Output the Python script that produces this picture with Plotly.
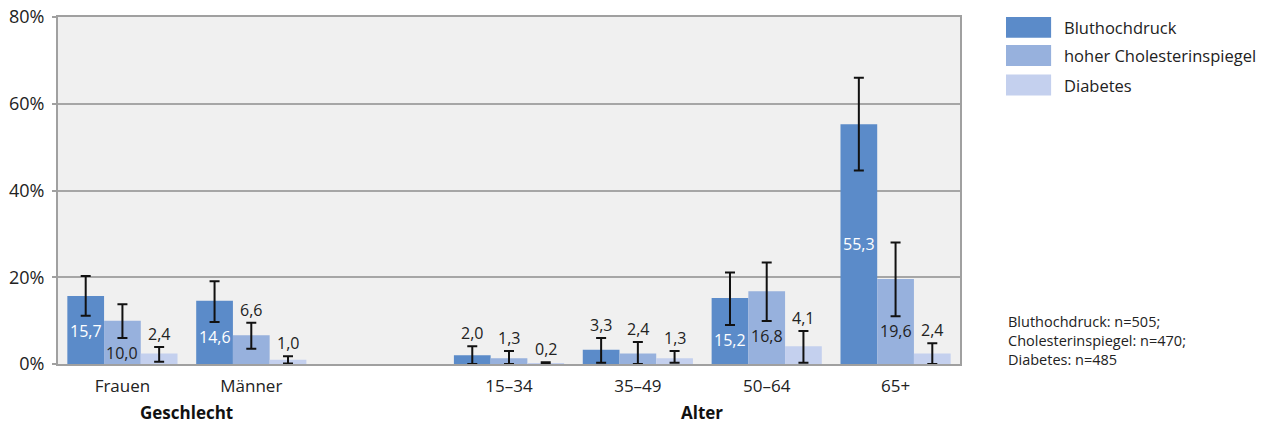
import plotly.graph_objects as go

# ---- data ----
categories = ["Frauen", "Männer", "15–34", "35–49", "50–64", "65+"]
cat_pos = [0, 1, 3, 4, 5, 6]
groups = ["Geschlecht", "Alter"]
group_pos = [0.5, 4.5]

series = ["Bluthochdruck", "hoher Cholesterinspiegel", "Diabetes"]
values = {
    "Bluthochdruck":            [15.7, 14.6, 2.0, 3.3, 15.2, 55.3],
    "hoher Cholesterinspiegel": [10.0, 6.6, 1.3, 2.4, 16.8, 19.6],
    "Diabetes":                 [2.4, 1.0, 0.2, 1.3, 4.1, 2.4],
}
ci_upper = {
    "Bluthochdruck":            [20.3, 19.1, 4.1, 6.0, 21.1, 66.0],
    "hoher Cholesterinspiegel": [13.8, 9.5, 3.0, 5.1, 23.4, 28.0],
    "Diabetes":                 [3.9, 1.8, 0.4, 3.0, 7.6, 4.8],
}
ci_lower = {
    "Bluthochdruck":            [11.1, 9.7, 0.0, 0.3, 9.0, 44.6],
    "hoher Cholesterinspiegel": [6.0, 3.5, 0.0, 0.0, 9.9, 11.0],
    "Diabetes":                 [0.5, 0.1, 0.0, 0.3, 0.3, 0.0],
}
y_ticks = [0, 20, 40, 60, 80]
note_lines = ["Bluthochdruck: n=505;", "Cholesterinspiegel: n=470;", "Diabetes: n=485"]

# ---- style ----
colors = ["#5B8BC9", "#97B1DD", "#C4D0EE"]
inside_text_colors = ["white", "#222222", "#222222"]
FONT = "Open Sans"
bargap = 0.145
bar_w = (1 - bargap) / 3

fig = go.Figure()
for i, s in enumerate(series):
    v = values[s]
    fig.add_trace(go.Bar(
        x=cat_pos, y=v, name=s, marker_color=colors[i], marker_line_width=0,
        error_y=dict(type="data", symmetric=False,
                     array=[h - a for h, a in zip(ci_upper[s], v)],
                     arrayminus=[a - l for a, l in zip(v, ci_lower[s])],
                     color="#111111", thickness=2, width=5),
        showlegend=False,
    ))

annotations = []
for i, s in enumerate(series):
    off = (i - 1) * bar_w
    for p, v, hi, lo in zip(cat_pos, values[s], ci_upper[s], ci_lower[s]):
        txt = f"{v:.1f}".replace(".", ",")
        if v >= 10:
            y = min(v / 2, lo - 3.5)
            annotations.append(dict(x=p + off, y=y, xref="x", yref="y", text=txt,
                                    showarrow=False, yanchor="middle",
                                    font=dict(family=FONT, size=16, color=inside_text_colors[i])))
        else:
            annotations.append(dict(x=p + off, y=hi, xref="x", yref="y", text=txt,
                                    showarrow=False, yanchor="middle", yshift=13,
                                    font=dict(family=FONT, size=16, color="#222222")))

for g, gp in zip(groups, group_pos):
    annotations.append(dict(x=gp, y=-0.141, xref="x", yref="paper", text=f"<b>{g}</b>",
                            showarrow=False, yanchor="middle",
                            font=dict(family=FONT, size=17, color="#111111")))

# legend (drawn manually to match large swatches)
shapes = []
leg_y = [0.970, 0.889, 0.804]
for i, s in enumerate(series):
    shapes.append(dict(type="rect", xref="paper", yref="paper",
                       x0=1.051, x1=1.101, y0=leg_y[i] - 0.030, y1=leg_y[i] + 0.030,
                       fillcolor=colors[i], line_width=0))
    annotations.append(dict(x=1.113, y=leg_y[i], xref="paper", yref="paper", text=s,
                            showarrow=False, xanchor="left", yanchor="middle",
                            font=dict(family=FONT, size=16.5, color="#222222")))

annotations.append(dict(x=1.051, y=0.069, xref="paper", yref="paper",
                        text="<br>".join(note_lines), showarrow=False,
                        xanchor="left", yanchor="middle", align="left",
                        font=dict(family=FONT, size=14.5, color="#222222")))

fig.update_layout(
    width=1264, height=425,
    margin=dict(l=58, r=304, t=17, b=61, autoexpand=False),
    paper_bgcolor="white", plot_bgcolor="#F0F0F0",
    barmode="group", bargap=bargap, bargroupgap=0,
    font=dict(family=FONT, size=16, color="#222222"),
    annotations=annotations, shapes=shapes,
    xaxis=dict(range=[-0.5, 6.5], tickvals=cat_pos, ticktext=categories,
               showgrid=False, zeroline=False, showline=True, linecolor="#A0A0A0",
               linewidth=2, mirror=True, ticks="", ticklabelstandoff=6,
               tickfont=dict(size=17, family=FONT, color="#222222"),
               automargin=False, fixedrange=True),
    yaxis=dict(range=[0, 80], tickvals=y_ticks, ticktext=[f"{t}%" for t in y_ticks],
               showgrid=True, gridcolor="#A6A6A6", gridwidth=2, zeroline=False,
               showline=True, linecolor="#A0A0A0", linewidth=2, mirror=True,
               ticks="outside", ticklen=4, tickwidth=2, tickcolor="#A0A0A0",
               ticklabelstandoff=4, ticklabeloverflow="allow",
               tickfont=dict(size=18, family=FONT, color="#222222"),
               automargin=False, fixedrange=True),
)

# remove the default page margin so the figure fills the window exactly
fig.write_html("out.html", config={"displayModeBar": False},
               post_script="document.body.style.margin='0';")
